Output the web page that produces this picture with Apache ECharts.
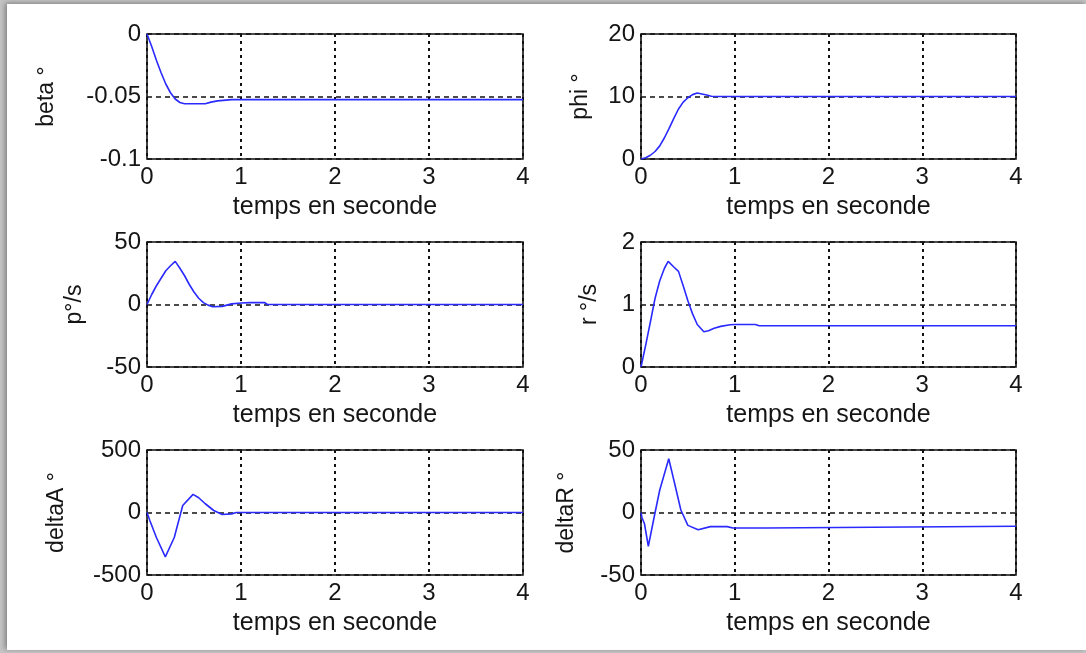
<!DOCTYPE html>
<html>
<head>
<meta charset="utf-8">
<title>Réponses temporelles</title>
<script src="https://cdn.jsdelivr.net/npm/echarts@6/dist/echarts.min.js"></script>
<style>
  html, body { margin: 0; padding: 0; width: 1086px; height: 653px; overflow: hidden; background: #c4c4c4; }
  #panel { position: absolute; left: 7px; top: 4px; width: 1079px; height: 646px; background: #fff;
           box-shadow: -2px -1px 5px rgba(0,0,0,0.35); }
  #chart { position: absolute; left: 0; top: 0; width: 1086px; height: 653px; }
</style>
</head>
<body>
<div id="panel"></div>
<div id="chart"></div>
<script>
// Time axis (seconds) and tick settings
const xTicks = [0, 1, 2, 3, 4];
const xName = 'temps en seconde';

// Sideslip angle beta (deg)
const betaT = [0, 0.05, 0.1, 0.15, 0.2, 0.25, 0.3, 0.35, 0.4, 0.62, 0.68, 0.75, 0.9, 4];
const betaV = [0, -0.010, -0.021, -0.031, -0.040, -0.047, -0.052, -0.0548, -0.0558, -0.0558, -0.0545, -0.0535, -0.0525, -0.0525];

// Roll angle phi (deg)
const phiT = [0, 0.05, 0.1, 0.15, 0.2, 0.25, 0.3, 0.35, 0.4, 0.45, 0.5, 0.55, 0.6, 0.65, 0.7, 0.75, 0.8, 4];
const phiV = [0, 0.2, 0.6, 1.2, 2.1, 3.4, 4.9, 6.5, 8.0, 9.1, 9.8, 10.3, 10.55, 10.4, 10.25, 10.05, 10.0, 10.0];

// Roll rate p (deg/s)
const pT = [0, 0.05, 0.1, 0.15, 0.2, 0.25, 0.3, 0.35, 0.4, 0.45, 0.5, 0.55, 0.6, 0.65, 0.7, 0.8, 0.9, 1.0, 1.1, 1.25, 1.28, 4];
const pV = [0, 8, 15, 21, 27, 31, 34.5, 29, 23, 16, 10, 5, 1.5, -0.5, -1.8, -1.5, 0.5, 1.2, 1.5, 1.6, 0, 0];

// Yaw rate r (deg/s)
const rT = [0, 0.05, 0.1, 0.15, 0.2, 0.25, 0.29, 0.35, 0.4, 0.45, 0.5, 0.55, 0.6, 0.67, 0.72, 0.78, 0.85, 0.95, 1.0, 1.22, 1.26, 4];
const rV = [0, 0.35, 0.72, 1.10, 1.38, 1.58, 1.69, 1.60, 1.53, 1.30, 1.06, 0.85, 0.68, 0.565, 0.58, 0.62, 0.65, 0.675, 0.68, 0.68, 0.66, 0.66];

// Aileron deflection deltaA (deg)
const dAT = [0, 0.03, 0.1, 0.195, 0.29, 0.38, 0.49, 0.55, 0.62, 0.71, 0.8, 0.9, 0.95, 4];
const dAV = [0, -64, -200, -355, -200, 56, 145, 118, 70, 16, -16, -11, 0, 0];

// Rudder deflection deltaR (deg)
const dRT = [0, 0.01, 0.037, 0.078, 0.148, 0.2, 0.296, 0.35, 0.425, 0.5, 0.61, 0.74, 0.92, 0.98, 1.33, 1.35, 4];
const dRV = [0, -4, -9, -27, -0.8, 18, 43, 26, 2, -10.3, -13.8, -11.3, -11.3, -12.4, -12.4, -11, -11];

// Panel definitions: label, series, y range, gap between y axis and its name
const panels = [
  { name: 'beta °',   t: betaT, v: betaV, min: -0.1, max: 0,   step: 0.05, gap: 89, col: 0, row: 0 },
  { name: 'phi °',    t: phiT,  v: phiV,  min: 0,    max: 20,  step: 10,   gap: 49, col: 1, row: 0 },
  { name: 'p°/s',     t: pT,    v: pV,    min: -50,  max: 50,  step: 50,   gap: 61, col: 0, row: 1 },
  { name: 'r °/s',    t: rT,    v: rV,    min: 0,    max: 2,   step: 1,    gap: 40, col: 1, row: 1 },
  { name: 'deltaA °', t: dAT,   v: dAV,   min: -500, max: 500, step: 500,  gap: 79, col: 0, row: 2 },
  { name: 'deltaR °', t: dRT,   v: dRV,   min: -50,  max: 50,  step: 50,   gap: 63, col: 1, row: 2 }
];

const colLeft = [147, 641];
const colWidth = [376, 375];
const rowTop = [34, 242, 450];
const rowHeight = 125;

const font = 'Liberation Sans, Arial, sans-serif';
const textColor = '#151515';

const grid = [], xAxis = [], yAxis = [], series = [];
panels.forEach((p, i) => {
  grid.push({
    left: colLeft[p.col], top: rowTop[p.row], width: colWidth[p.col], height: rowHeight,
    show: true, borderColor: '#111', borderWidth: 1.6, backgroundColor: 'transparent'
  });
  xAxis.push({
    gridIndex: i, type: 'value', min: xTicks[0], max: xTicks[xTicks.length - 1], interval: 1,
    axisLine: { show: false }, axisTick: { show: false },
    axisLabel: { fontSize: 24, color: textColor, fontFamily: font, margin: 6, showMinLabel: true, showMaxLabel: true },
    splitLine: { show: true, lineStyle: { color: '#111', type: [3, 4], width: 2 } },
    name: xName, nameLocation: 'middle', nameGap: 36,
    nameTextStyle: { fontSize: 25, color: textColor, fontFamily: font }
  });
  yAxis.push({
    gridIndex: i, type: 'value', min: p.min, max: p.max, interval: p.step,
    axisLine: { show: false }, axisTick: { show: false },
    axisLabel: { fontSize: 24, color: textColor, fontFamily: font, margin: 6, showMinLabel: true, showMaxLabel: true },
    splitLine: { show: true, lineStyle: { color: '#111', type: [5, 4], width: 1.5 } },
    name: p.name, nameLocation: 'middle', nameRotate: 90, nameGap: p.gap,
    nameTextStyle: { fontSize: 23, color: textColor, fontFamily: font }
  });
  series.push({
    type: 'line', xAxisIndex: i, yAxisIndex: i,
    data: p.t.map((tt, k) => [tt, p.v[k]]),
    showSymbol: false, silent: true,
    lineStyle: { color: '#2a2aff', width: 1.6 }
  });
});

const chart = echarts.init(document.getElementById('chart'), null, { renderer: 'canvas' });
chart.setOption({
  animation: false,
  backgroundColor: 'transparent',
  grid, xAxis, yAxis, series
});
</script>
</body>
</html>
